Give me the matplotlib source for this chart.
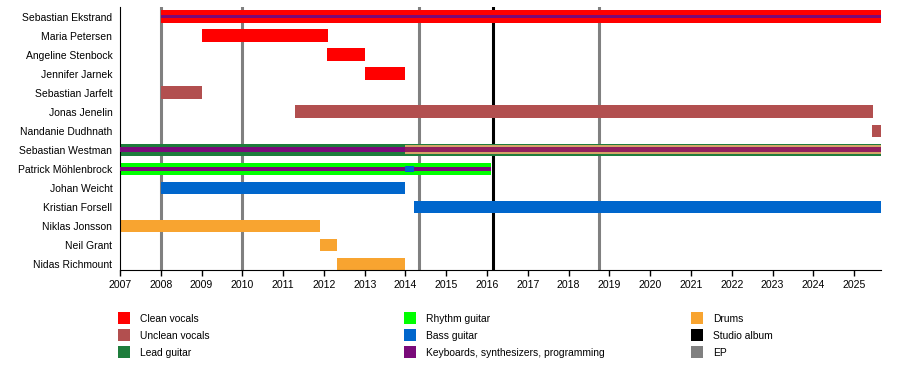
import matplotlib.pyplot as plt
from matplotlib.patches import Rectangle

plt.rcParams['font.family'] = ['Liberation Sans', 'DejaVu Sans']

END = 2025.66

members = ["Sebastian Ekstrand", "Maria Petersen", "Angeline Stenbock", "Jennifer Jarnek",
           "Sebastian Jarfelt", "Jonas Jenelin", "Nandanie Dudhnath", "Sebastian Westman",
           "Patrick Möhlenbrock", "Johan Weicht", "Kristian Forsell", "Niklas Jonsson",
           "Neil Grant", "Nidas Richmount"]

colors = {
    "Clean vocals": "#ff0000",
    "Unclean vocals": "#b24f4f",
    "Lead guitar": "#1e7d3c",
    "Rhythm guitar": "#00ff00",
    "Bass guitar": "#0066cc",
    "Keyboards, synthesizers, programming": "#7a0a7a",
    "Drums": "#f8a430",
    "Studio album": "#000000",
    "EP": "#808080",
}
# blended stripes seen on Westman's bar after 2014
extra_colors = {"Drums/lead": "#d4a468", "Keys/unclean": "#90205c"}

# (member, role, start, end) full-height bars
bars = [
    ("Sebastian Ekstrand", "Clean vocals", 2008.0, END),
    ("Maria Petersen", "Clean vocals", 2009.0, 2012.1),
    ("Angeline Stenbock", "Clean vocals", 2012.07, 2013.0),
    ("Jennifer Jarnek", "Clean vocals", 2013.0, 2014.0),
    ("Sebastian Jarfelt", "Unclean vocals", 2008.0, 2009.02),
    ("Jonas Jenelin", "Unclean vocals", 2011.3, 2025.46),
    ("Nandanie Dudhnath", "Unclean vocals", 2025.44, END),
    ("Sebastian Westman", "Lead guitar", 2007.0, END),
    ("Patrick Möhlenbrock", "Rhythm guitar", 2007.0, 2016.09),
    ("Johan Weicht", "Bass guitar", 2008.0, 2014.0),
    ("Kristian Forsell", "Bass guitar", 2014.2, END),
    ("Niklas Jonsson", "Drums", 2007.0, 2011.9),
    ("Neil Grant", "Drums", 2011.9, 2012.33),
    ("Nidas Richmount", "Drums", 2012.33, 2014.0),
]

# (member, role, start, end, height fraction) stripes over the bars
stripes = [
    ("Sebastian Ekstrand", "Keyboards, synthesizers, programming", 2008.0, END, 0.3),
    ("Sebastian Westman", "Keyboards, synthesizers, programming", 2007.0, 2014.0, 0.38),
    ("Sebastian Westman", "Drums/lead", 2014.0, END, 0.74),
    ("Sebastian Westman", "Keys/unclean", 2014.0, END, 0.38),
    ("Patrick Möhlenbrock", "Keyboards, synthesizers, programming", 2007.0, 2016.09, 0.36),
    ("Patrick Möhlenbrock", "Bass guitar", 2014.0, 2014.22, 0.5),
]

studio_albums = [2016.14]
eps = [2008.0, 2010.0, 2014.33, 2018.74]

years = list(range(2007, 2026))

fig = plt.figure(figsize=(9, 3.9), dpi=100)
ax = fig.add_axes([120 / 900, 1 - 270 / 390, 761 / 900, 263 / 390])

row = {m: i for i, m in enumerate(members)}
bh = 0.66

for x in eps:
    ax.axvline(x, color=colors["EP"], lw=2.2, zorder=1)
for x in studio_albums:
    ax.axvline(x, color=colors["Studio album"], lw=2.2, zorder=1)

for m, role, s, e in bars:
    ax.barh(row[m], e - s, left=s, height=bh, color=colors[role], lw=0, zorder=2)

for m, role, s, e, f in stripes:
    c = colors.get(role, extra_colors.get(role))
    ax.barh(row[m], e - s, left=s, height=bh * f, color=c, lw=0, zorder=3)

ax.set_xlim(2007, END)
ax.set_ylim(13.31, -0.5)
ax.set_yticks(range(len(members)))
ax.set_yticklabels(members, fontsize=7.5)
ax.tick_params(axis='y', length=0, pad=5.5)
ax.set_xticks(years)
ax.set_xticklabels([str(y) for y in years], fontsize=7.6)
ax.tick_params(axis='x', length=4, width=1, pad=3)
ax.spines['top'].set_visible(False)
ax.spines['right'].set_visible(False)

# legend in three columns
legend_cols = [
    ["Clean vocals", "Unclean vocals", "Lead guitar"],
    ["Rhythm guitar", "Bass guitar", "Keyboards, synthesizers, programming"],
    ["Drums", "Studio album", "EP"],
]
col_x = [118, 404, 691]
for ci, col in enumerate(legend_cols):
    for ri, name in enumerate(col):
        y = 312 + ri * 17
        fig.patches.append(Rectangle((col_x[ci] / 900, 1 - (y + 12) / 390), 12 / 900, 12 / 390,
                                     transform=fig.transFigure, color=colors[name], lw=0))
        fig.text((col_x[ci] + 22) / 900, 1 - (y + 7) / 390, name, fontsize=7.4, va='center', ha='left')

fig.savefig("out.png", dpi=100)
